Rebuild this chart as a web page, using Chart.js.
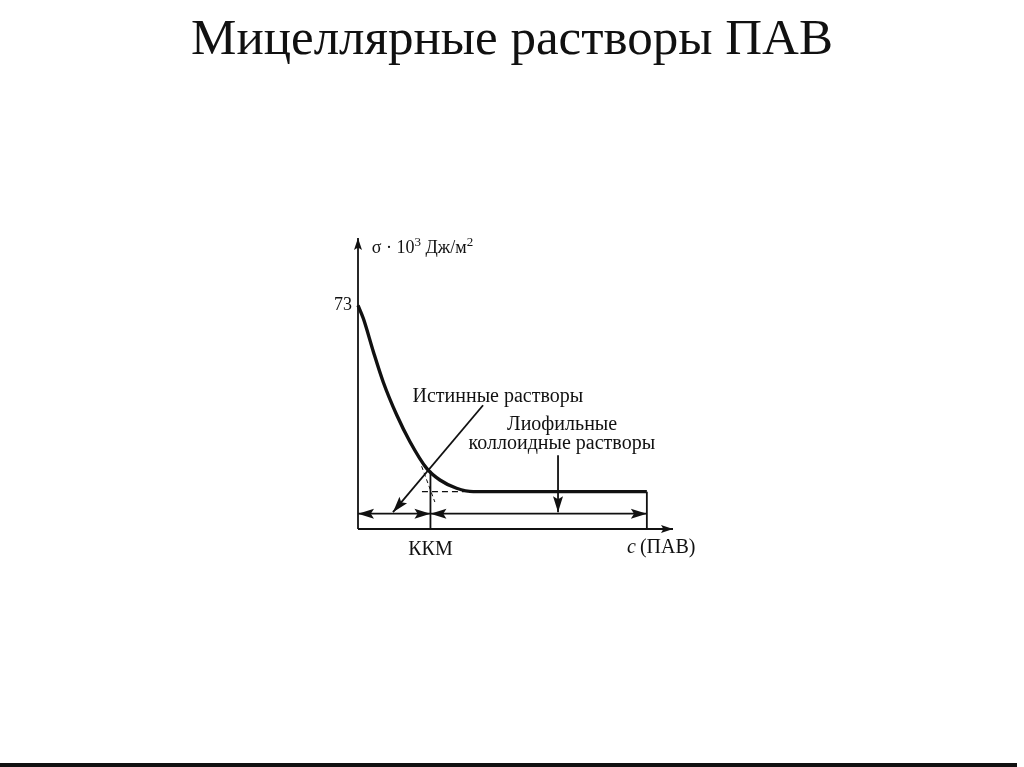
<!DOCTYPE html>
<html lang="ru">
<head>
<meta charset="utf-8">
<title>Мицеллярные растворы ПАВ</title>
<script src="https://cdn.jsdelivr.net/npm/chart.js@4.4.1/dist/chart.umd.min.js"></script>
<style>
    html, body { margin: 0; padding: 0; background: #fff; }
    body { width: 1024px; height: 767px; position: relative; overflow: hidden; }
    #title {
        position: absolute; left: 0; top: 12px; width: 1024px;
        text-align: center; font: 51px/51px 'Liberation Serif', 'Times New Roman', serif; color: #111;
    }
    #chart-wrap { position: absolute; left: 0; top: 0; width: 1024px; height: 767px; }
    #bottom-rule { position: absolute; left: 0; top: 763px; width: 1017px; height: 4px; background: #111; }
</style>
</head>
<body>
<div id="title">Мицеллярные растворы ПАВ</div>
<div id="chart-wrap"><canvas id="micelle-chart"></canvas></div>
<div id="bottom-rule"></div>
<script>
    // Surface tension curve (x: c(ПАВ) arb. units, y: σ·10³ Дж/м²)
    const curveX = [0, 1.7, 4.9, 8.0, 12.3, 16.5, 21.8, 26.0, 31.3, 36.6, 91.7];
    const curveY = [73, 68.7, 57.8, 48.0, 37.2, 28.5, 19.8, 16.0, 13.3, 12.2, 12.2];

    // Tick labels
    const yTicks = [73];
    const xTicks = [23];
    const xTickLabels = ['ККМ'];

    // Reference marks
    const kkm = 23;
    const kkmSigma = 19;
    const plateauSigma = 12.2;
    const plateauEnd = 91.7;
    const rangeLevel = 5;
    const axisMaxX = 100;
    const axisMaxY = 95;

    const pts = (xs, ys) => xs.map((x, i) => ({ x: x, y: ys[i] }));

    const INK = '#111';
    const SERIF = "'Liberation Serif', 'Times New Roman', serif";

    // Arrowheads and text annotations
    const annotate = {
        id: 'annotate',
        afterDatasetsDraw: function(chart) {
            const ctx = chart.ctx;
            const xs = chart.scales.x, ys = chart.scales.y;

            const head = (from, to, len, half) => {
                const ang = Math.atan2(to.y - from.y, to.x - from.x);
                ctx.save();
                ctx.translate(to.x, to.y);
                ctx.rotate(ang);
                ctx.beginPath();
                ctx.moveTo(0, 0);
                ctx.lineTo(-len, -half);
                ctx.lineTo(-len * 0.8, 0);
                ctx.lineTo(-len, half);
                ctx.closePath();
                ctx.fillStyle = INK;
                ctx.fill();
                ctx.restore();
            };

            chart.data.datasets.forEach(ds => {
                if (!ds.arrows) return;
                const d = ds.data;
                const p0 = { x: xs.getPixelForValue(d[0].x), y: ys.getPixelForValue(d[0].y) };
                const p1 = { x: xs.getPixelForValue(d[1].x), y: ys.getPixelForValue(d[1].y) };
                const a = ds.arrows;
                if (a.end) head(p0, p1, a.len, a.half);
                if (a.start) head(p1, p0, a.len, a.half);
            });

            const rich = (parts, x, y, size, align) => {
                ctx.save();
                ctx.fillStyle = INK;
                ctx.textBaseline = 'alphabetic';
                const fontOf = p => (p.italic ? 'italic ' : '') + Math.round(size * (p.sup ? 0.72 : 1)) + 'px ' + SERIF;
                let total = 0;
                parts.forEach(p => {
                    ctx.font = fontOf(p);
                    total += ctx.measureText(p.t).width;
                });
                let cx = align === 'center' ? x - total / 2 : x;
                parts.forEach(p => {
                    ctx.font = fontOf(p);
                    ctx.fillText(p.t, cx, p.sup ? y - size * 0.42 : y);
                    cx += ctx.measureText(p.t).width;
                });
                ctx.restore();
            };

            const px = v => xs.getPixelForValue(v);
            const py = v => ys.getPixelForValue(v);

            rich([{ t: 'σ · 10' }, { t: '3', sup: true }, { t: ' Дж/м' }, { t: '2', sup: true }], px(4.4), py(90.0), 18, 'left');
            rich([{ t: 'Истинные растворы' }], px(44.4), py(41.4), 19.5, 'center');
            rich([{ t: 'Лиофильные' }], px(64.8), py(32.3), 19.5, 'center');
            rich([{ t: 'коллоидные растворы' }], px(64.7), py(26.1), 19.5, 'center');
            rich([{ t: 'c', italic: true }, { t: '\u2009(ПАВ)' }], px(85.4), py(-7.8), 20, 'left');
        }
    };

    const line = (data, extra) => Object.assign({
        data: data,
        borderColor: INK,
        borderWidth: 1.8,
        pointRadius: 0,
        fill: false,
        showLine: true,
        tension: 0
    }, extra || {});

    const datasets = [
        line(pts(curveX, curveY), { borderWidth: 3.4, cubicInterpolationMode: 'monotone' }),
        // axes
        line([{ x: 0, y: 0 }, { x: 0, y: axisMaxY }], { arrows: { end: true, len: 12, half: 4 } }),
        line([{ x: 0, y: 0 }, { x: axisMaxX, y: 0 }], { arrows: { end: true, len: 12, half: 4 } }),
        // plateau end and CMC verticals
        line([{ x: plateauEnd, y: plateauSigma }, { x: plateauEnd, y: 0 }]),
        line([{ x: kkm, y: kkmSigma }, { x: kkm, y: 0 }]),
        // dashed guides
        line([{ x: 20.3, y: plateauSigma }, { x: 36.6, y: plateauSigma }], { borderWidth: 1.1, borderDash: [6, 4] }),
        line([{ x: 20.2, y: 20.5 }, { x: 24.4, y: 8.8 }], { borderWidth: 1, borderDash: [4, 3] }),
        // concentration ranges
        line([{ x: 0, y: rangeLevel }, { x: kkm, y: rangeLevel }], { arrows: { start: true, end: true, len: 16, half: 5 } }),
        line([{ x: kkm, y: rangeLevel }, { x: plateauEnd, y: rangeLevel }], { arrows: { start: true, end: true, len: 16, half: 5 } }),
        // pointers from labels
        line([{ x: 39.7, y: 40.4 }, { x: 11.1, y: 5.5 }], { arrows: { end: true, len: 16, half: 5 } }),
        line([{ x: 63.5, y: 24.1 }, { x: 63.5, y: 5.5 }], { arrows: { end: true, len: 16, half: 5 } })
    ];

    new Chart(document.getElementById('micelle-chart'), {
        type: 'scatter',
        data: { datasets: datasets },
        options: {
            responsive: true,
            maintainAspectRatio: false,
            animation: false,
            clip: false,
            layout: { padding: { left: 318, right: 351, top: 238, bottom: 208 } },
            plugins: { legend: { display: false }, tooltip: { enabled: false } },
            scales: {
                x: {
                    type: 'linear', min: 0, max: axisMaxX,
                    grid: { display: false, drawTicks: false },
                    border: { display: false },
                    afterBuildTicks: scale => { scale.ticks = xTicks.map(v => ({ value: v })); },
                    afterFit: scale => { scale.height = 30; },
                    ticks: {
                        padding: 9, color: INK, maxRotation: 0,
                        font: { family: SERIF, size: 20 },
                        callback: value => xTickLabels[xTicks.indexOf(value)]
                    }
                },
                y: {
                    type: 'linear', min: 0, max: axisMaxY,
                    grid: { display: false, drawTicks: false },
                    border: { display: false },
                    afterBuildTicks: scale => { scale.ticks = yTicks.map(v => ({ value: v })); },
                    afterFit: scale => { scale.width = 40; },
                    ticks: {
                        padding: 6, color: INK,
                        font: { family: SERIF, size: 18 }
                    }
                }
            }
        },
        plugins: [annotate]
    });
</script>
</body>
</html>
